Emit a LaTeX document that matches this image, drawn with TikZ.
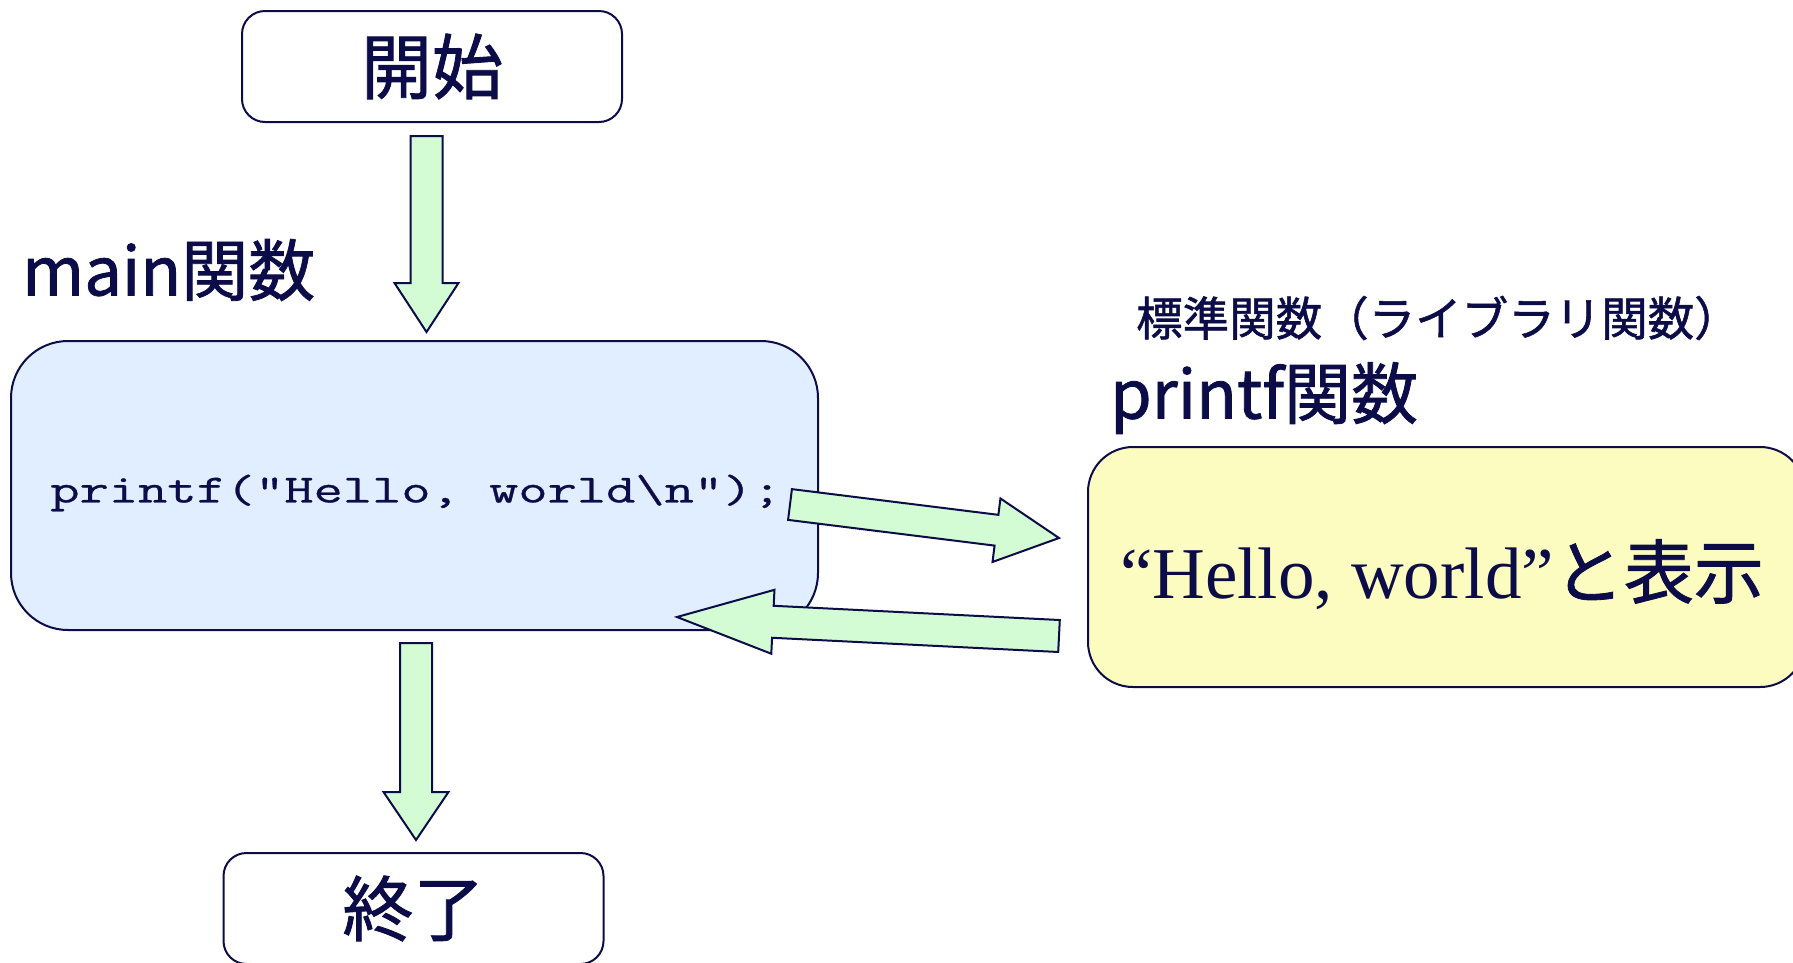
\documentclass[tikz,border=0pt]{standalone}
\usepackage{fontspec}
\setmainfont{Noto Sans CJK JP}[FakeBold=1.2]
\newfontfamily\codefont{Latin Modern Mono}[FakeStretch=1.42, FakeBold=0.7]
\newfontfamily\romanfont{Liberation Serif}
\usetikzlibrary{calc}

\definecolor{inkblue}{HTML}{0C0C48}
\definecolor{arrowgreen}{HTML}{D4FCD4}
\definecolor{mainblue}{HTML}{E0EEFF}
\definecolor{libyellow}{HTML}{FCFCC0}

\tikzset{
  endbox/.style={draw=inkblue, line width=2pt, rounded corners=23pt,
    minimum width=380pt, minimum height=111pt, inner sep=0pt,
    text=inkblue, font=\fontsize{71}{80}\selectfont},
  funcbox/.style={draw=inkblue, line width=2pt, inner sep=0pt},
  title/.style={text=inkblue, anchor=west, inner sep=0pt},
  fatarrow/.style={draw=inkblue, fill=arrowgreen, line width=2pt},
}

% #1 from, #2 tip, #3 half shaft, #4 half head, #5 head length
\newcommand\blockarrow[5]{%
  \coordinate (fa-base) at ($(#2)!#5pt!(#1)$);
  \draw[fatarrow]
    ($(#1)!#3pt!90:(#2)$) -- ($(fa-base)!#3pt!90:(#2)$) -- ($(fa-base)!#4pt!90:(#2)$)
    -- (#2) -- ($(fa-base)!#4pt!-90:(#2)$) -- ($(fa-base)!#3pt!-90:(#2)$)
    -- ($(#1)!#3pt!-90:(#2)$) -- cycle;
}

\begin{document}
\begin{tikzpicture}[x=1pt, y=-1pt]

  \useasboundingbox (0,0) rectangle (1793,962);

  % start / end
  \node[endbox] (start) at (432,66.5) {開始};
  \node[endbox] (end) at (413.5,908.5) {終了};

  % main function
  \node[title, font=\fontsize{67}{76}\selectfont] (mainlbl) at (22,270) {main関数};
  \node[funcbox, fill=mainblue, rounded corners=57pt,
    minimum width=807pt, minimum height=289pt] (main) at (414.5,485.5) {};
  \node[text=inkblue, inner sep=0pt, font=\codefont\fontsize{40}{44}\selectfont]
    (code) at (416,493) {printf("Hello, world\textbackslash n");};

  % printf function
  \node[title, font=\fontsize{46.5}{52}\selectfont] (stdlbl) at (1136,318) {標準関数（ライブラリ関数）};
  \node[title, font=\fontsize{67}{76}\selectfont] (printflbl) at (1110,398) {printf関数};
  \node[funcbox, fill=libyellow, rounded corners=45pt,
    minimum width=717pt, minimum height=240pt] (printf) at (1446.5,567) {};
  \node[text=inkblue, anchor=base, inner sep=0pt] (msg) at (1442,598)
    {{\romanfont\fontsize{73}{80}\selectfont “Hello, world”}{\fontsize{70}{80}\selectfont と表示}};

  % arrows
  \coordinate (a1s) at (426.5,136);
  \coordinate (a1e) at (426.5,332);
  \coordinate (a2s) at (416,643);
  \coordinate (a2e) at (416,840);
  \coordinate (calls) at (790,504.5);
  \coordinate (calle) at (1059,538);
  \coordinate (rets) at (1059,636);
  \coordinate (rete) at (677,617);

  \blockarrow{a1s}{a1e}{16}{32}{49}
  \blockarrow{a2s}{a2e}{16}{32.5}{48}
  \blockarrow{calls}{calle}{15.5}{32}{63}
  \blockarrow{rets}{rete}{16}{32}{96}

\end{tikzpicture}
\end{document}
